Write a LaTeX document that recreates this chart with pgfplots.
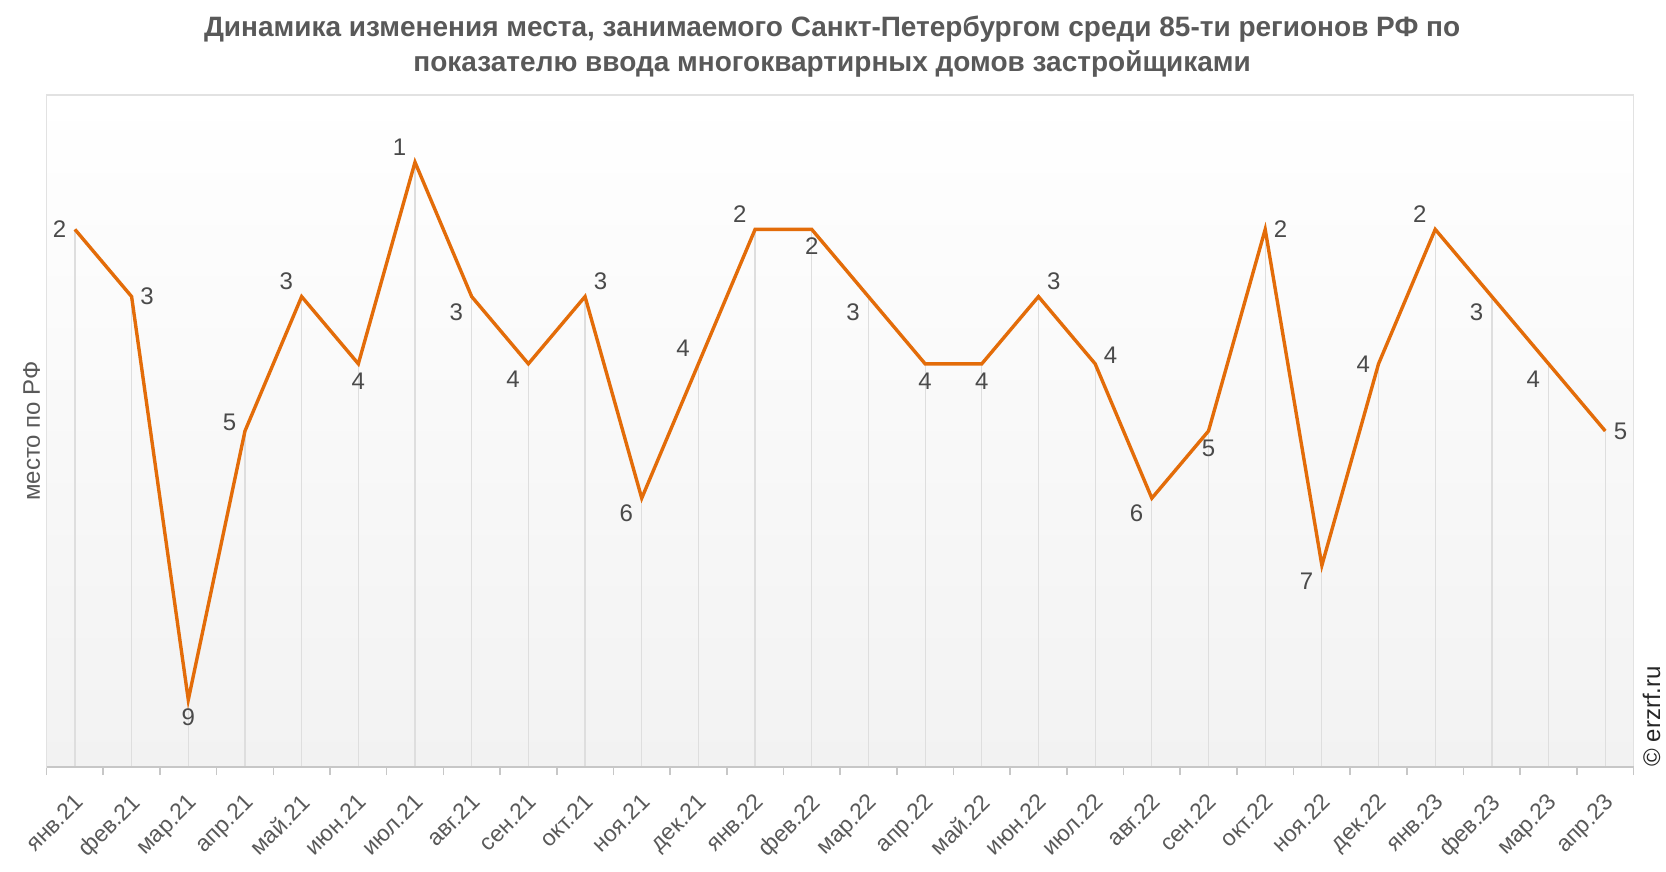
\documentclass[border=0pt]{standalone}
\usepackage{fontspec}
\setmainfont{Liberation Sans}
\usepackage{pgfplots}
\pgfplotsset{compat=1.18}
\usepackage{pgfplotstable}
\definecolor{lineor}{HTML}{E36C09}
\definecolor{lblgray}{HTML}{4A4A4A}
\definecolor{ttlgray}{HTML}{595959}
\definecolor{dropgray}{HTML}{DEDEDE}
\definecolor{framegray}{HTML}{E2E2E2}
\definecolor{bggray}{HTML}{F2F2F2}

% place in ranking (1 = best), drop to the bottom, label anchor angle
\pgfplotstableread{
x y drop ang
0 2 8 0
1 3 7 180
2 9 1 90
3 5 5 -30
4 3 7 -45
5 4 6 90
6 1 9 -45
7 3 7 45
8 4 6 45
9 3 7 225
10 6 4 45
11 4 6 -45
12 2 8 -45
13 2 8 90
14 3 7 45
15 4 6 90
16 4 6 90
17 3 7 225
18 4 6 210
19 6 4 45
20 5 5 90
21 2 8 180
22 7 3 45
23 4 6 0
24 2 8 -45
25 3 7 45
26 4 6 45
27 5 5 180
}\ranks

\begin{document}
\begin{tikzpicture}
\path[use as bounding box] (-23.3pt,-52.5pt) rectangle (809.7pt,383.5pt);
\begin{axis}[
  scale only axis, width=793.5pt, height=336pt,
  xmin=-0.5, xmax=27.5, ymin=0, ymax=10, y dir=reverse,
  /pgf/number format/assume math mode=true,
  ytick=\empty,
  xtick={0,...,27},
  xticklabels={янв.21,фев.21,мар.21,апр.21,май.21,июн.21,июл.21,авг.21,сен.21,окт.21,ноя.21,дек.21,янв.22,фев.22,мар.22,апр.22,май.22,июн.22,июл.22,авг.22,сен.22,окт.22,ноя.22,дек.22,янв.23,фев.23,мар.23,апр.23},
  minor xtick={-0.5,0.5,...,27.5},
  major tick length=0pt, minor tick length=4pt,
  tick align=outside, xtick pos=lower,
  minor tick style={draw=black!22, line width=0.8pt},
  xticklabel style={xshift=-1pt, yshift=-11pt, rotate=45, anchor=north east, font=\fontsize{11.5}{13}\selectfont, text=ttlgray, inner sep=1pt},
  axis line style={draw=framegray, line width=0.8pt},
  axis background/.style={top color=white, bottom color=bggray, middle color=white!50!bggray},
  ylabel={место по РФ},
  ylabel style={at={(axis description cs:0,0.5)}, anchor=south, font=\fontsize{12}{14}\selectfont, text=ttlgray, inner sep=3pt},
  clip=false,
]
\addplot[draw=none, mark=none, forget plot,
  error bars/.cd, y dir=plus, y explicit, error mark=none,
  error bar style={draw=dropgray, line width=0.6pt}]
  table[x=x, y=y, y error=drop] {\ranks};
\addplot[lineor, line width=1.7pt, mark=none,
  visualization depends on={\thisrow{ang} \as \lblang},
  nodes near coords,
  every node near coord/.append style={anchor=\lblang, font=\fontsize{12}{14}\selectfont, text=lblgray, inner sep=3.5pt},
  ] table[x=x, y=y] {\ranks};
\draw[black!22, line width=0.8pt] (rel axis cs:0,0) -- (rel axis cs:1,0);
\node[font=\bfseries\fontsize{14}{16}\selectfont, text=ttlgray] at ([xshift=-4pt, yshift=33pt]rel axis cs:0.5,1) {Динамика изменения места, занимаемого Санкт-Петербургом среди 85-ти регионов РФ по};
\node[font=\bfseries\fontsize{14}{16}\selectfont, text=ttlgray] at ([xshift=-4pt, yshift=15.5pt]rel axis cs:0.5,1) {показателю ввода многоквартирных домов застройщиками};
\node[rotate=90, anchor=west, font=\fontsize{12}{14}\selectfont, text=black!85, inner sep=0pt] at ([xshift=9pt]rel axis cs:1,0) {© erzrf.ru};
\end{axis}
\end{tikzpicture}
\end{document}
